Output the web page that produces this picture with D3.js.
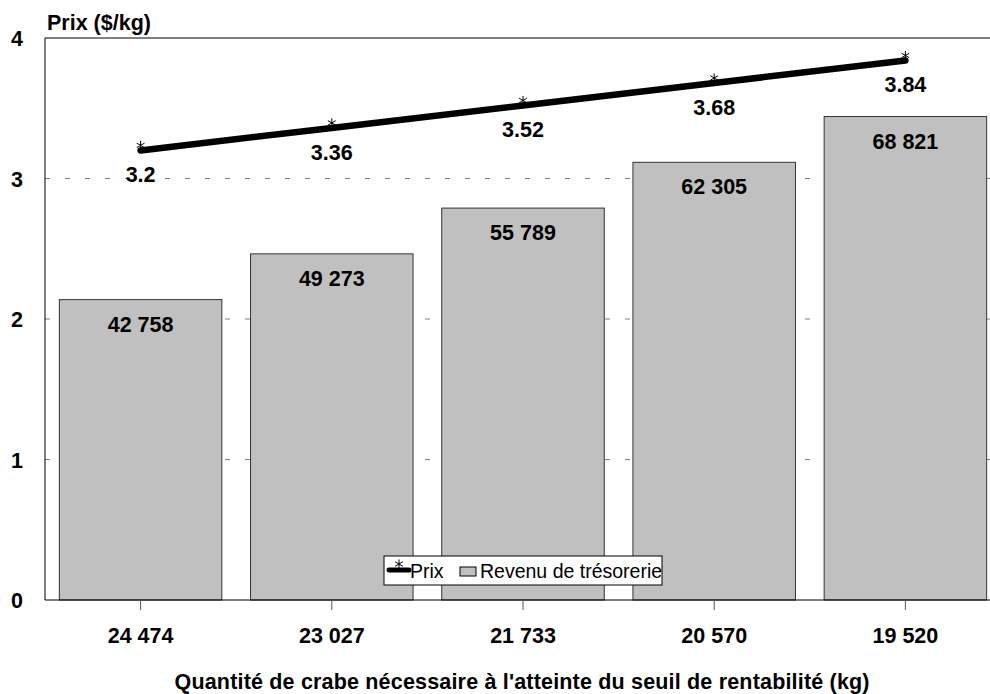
<!DOCTYPE html>
<html><head><meta charset="utf-8">
<script src="https://cdn.jsdelivr.net/npm/d3@7"></script>
<style>body{margin:0;background:#fff;font-family:"Liberation Sans",Arial,sans-serif}</style>
</head><body>
<svg id="c" width="990" height="694"></svg>
<script>
const categories = ["24 474","23 027","21 733","20 570","19 520"];
const prix = [3.2, 3.36, 3.52, 3.68, 3.84];
const revenu = [42758, 49273, 55789, 62305, 68821];
const yTicks = [0,1,2,3,4];
const revenuPerUnit = 20000;

const svg = d3.select("#c");
const FF = "Liberation Sans, Arial, sans-serif";
const FS = "21.5px";
const L = 45, T = 38, B = 600, R = 1001;
const x = d3.scaleBand().domain(categories).range([L, R]).paddingInner(0.15).paddingOuter(0.075);
const y = d3.scaleLinear().domain([0,4]).range([B, T]);
const fmt = v => d3.format(",")(v).replace(/,/g, " ");
const cx = (d,i)=>x(categories[i]) + x.bandwidth()/2;

// gridlines
svg.append("g").selectAll("line").data(yTicks.filter(t => t>0 && t<4)).join("line")
  .attr("x1", L).attr("x2", 990).attr("y1", d=>y(d)).attr("y2", d=>y(d))
  .attr("stroke", "#808080").attr("stroke-dasharray", "5,15").attr("stroke-width", 1);

// bars
svg.append("g").selectAll("rect").data(revenu).join("rect")
  .attr("x", (d,i)=>x(categories[i])).attr("width", x.bandwidth())
  .attr("y", d=>y(d/revenuPerUnit)).attr("height", d=>B - y(d/revenuPerUnit))
  .attr("fill", "#c0c0c0").attr("stroke", "#333").attr("stroke-width", 1);

svg.append("g").selectAll("text").data(revenu).join("text")
  .attr("x", cx).attr("y", d=>y(d/revenuPerUnit)+32)
  .attr("text-anchor","middle").attr("font-weight","bold").attr("font-size",FS)
  .text(d=>fmt(d));

// frame
svg.append("line").attr("x1",L).attr("x2",990).attr("y1",T).attr("y2",T).attr("stroke","#000");
svg.append("line").attr("x1",L).attr("x2",L).attr("y1",T).attr("y2",B).attr("stroke","#000");

// x axis
const xa = svg.append("g").attr("transform",`translate(0,${B})`).call(d3.axisBottom(x).tickSize(10).tickPadding(18));
xa.select(".domain").attr("stroke","#000").attr("d",`M${L},0H990`);
xa.selectAll(".tick line").attr("stroke","#555");
xa.selectAll("text").attr("font-size",FS).attr("font-weight","bold").attr("font-family",FF).attr("fill","#000");

// y labels
svg.append("g").selectAll("text").data(yTicks).join("text")
  .attr("x", 17).attr("y", d=>y(d)+8).attr("text-anchor","middle")
  .attr("font-weight","bold").attr("font-size",FS).text(d=>d);

// line
svg.append("path").datum(prix)
  .attr("d", d3.line().x(cx).y(d=>y(d)))
  .attr("fill","none").attr("stroke","#000").attr("stroke-width",6.5).attr("stroke-linecap","round");

// asterisk markers
function asterisk(g, r) {
  const a = [90, 30, 150];
  a.forEach(deg => {
    const t = deg*Math.PI/180;
    g.append("line").attr("x1",-r*Math.cos(t)).attr("y1",-r*Math.sin(t))
      .attr("x2",r*Math.cos(t)).attr("y2",r*Math.sin(t))
      .attr("stroke","#000").attr("stroke-width",1);
  });
}
svg.append("g").selectAll("g").data(prix).join("g")
  .attr("transform",(d,i)=>`translate(${cx(d,i)},${y(d)-5})`)
  .each(function(){ asterisk(d3.select(this), 4.5); });

svg.append("g").selectAll("text").data(prix).join("text")
  .attr("x", cx).attr("y", d=>y(d)+32).attr("text-anchor","middle")
  .attr("font-weight","bold").attr("font-size",FS).text(d=>d);

// titles
svg.append("text").attr("x",47).attr("y",30).attr("font-weight","bold").attr("font-size",FS).text("Prix ($/kg)");
svg.append("text").attr("x",522).attr("y",689).attr("text-anchor","middle").attr("font-weight","bold").attr("font-size",FS)
  .attr("textLength",695).attr("lengthAdjust","spacing")
  .text("Quantité de crabe nécessaire à l'atteinte du seuil de rentabilité (kg)");

// legend
const lg = svg.append("g").attr("transform","translate(384,556)");
lg.append("rect").attr("width",278).attr("height",29).attr("fill","#fff").attr("stroke","#000");
lg.append("line").attr("x1",5).attr("x2",25).attr("y1",14).attr("y2",14).attr("stroke","#000").attr("stroke-width",5).attr("stroke-linecap","round");
const lgs = lg.append("g").attr("transform","translate(15,8)"); asterisk(lgs, 4.5);
lg.append("text").attr("x",26).attr("y",22).attr("font-size","19.5px").text("Prix");
lg.append("rect").attr("x",76).attr("y",11).attr("width",16).attr("height",9).attr("fill","#c0c0c0").attr("stroke","#000");
lg.append("text").attr("x",96).attr("y",22).attr("font-size","19.5px").text("Revenu de trésorerie");
</script>
</body></html>
